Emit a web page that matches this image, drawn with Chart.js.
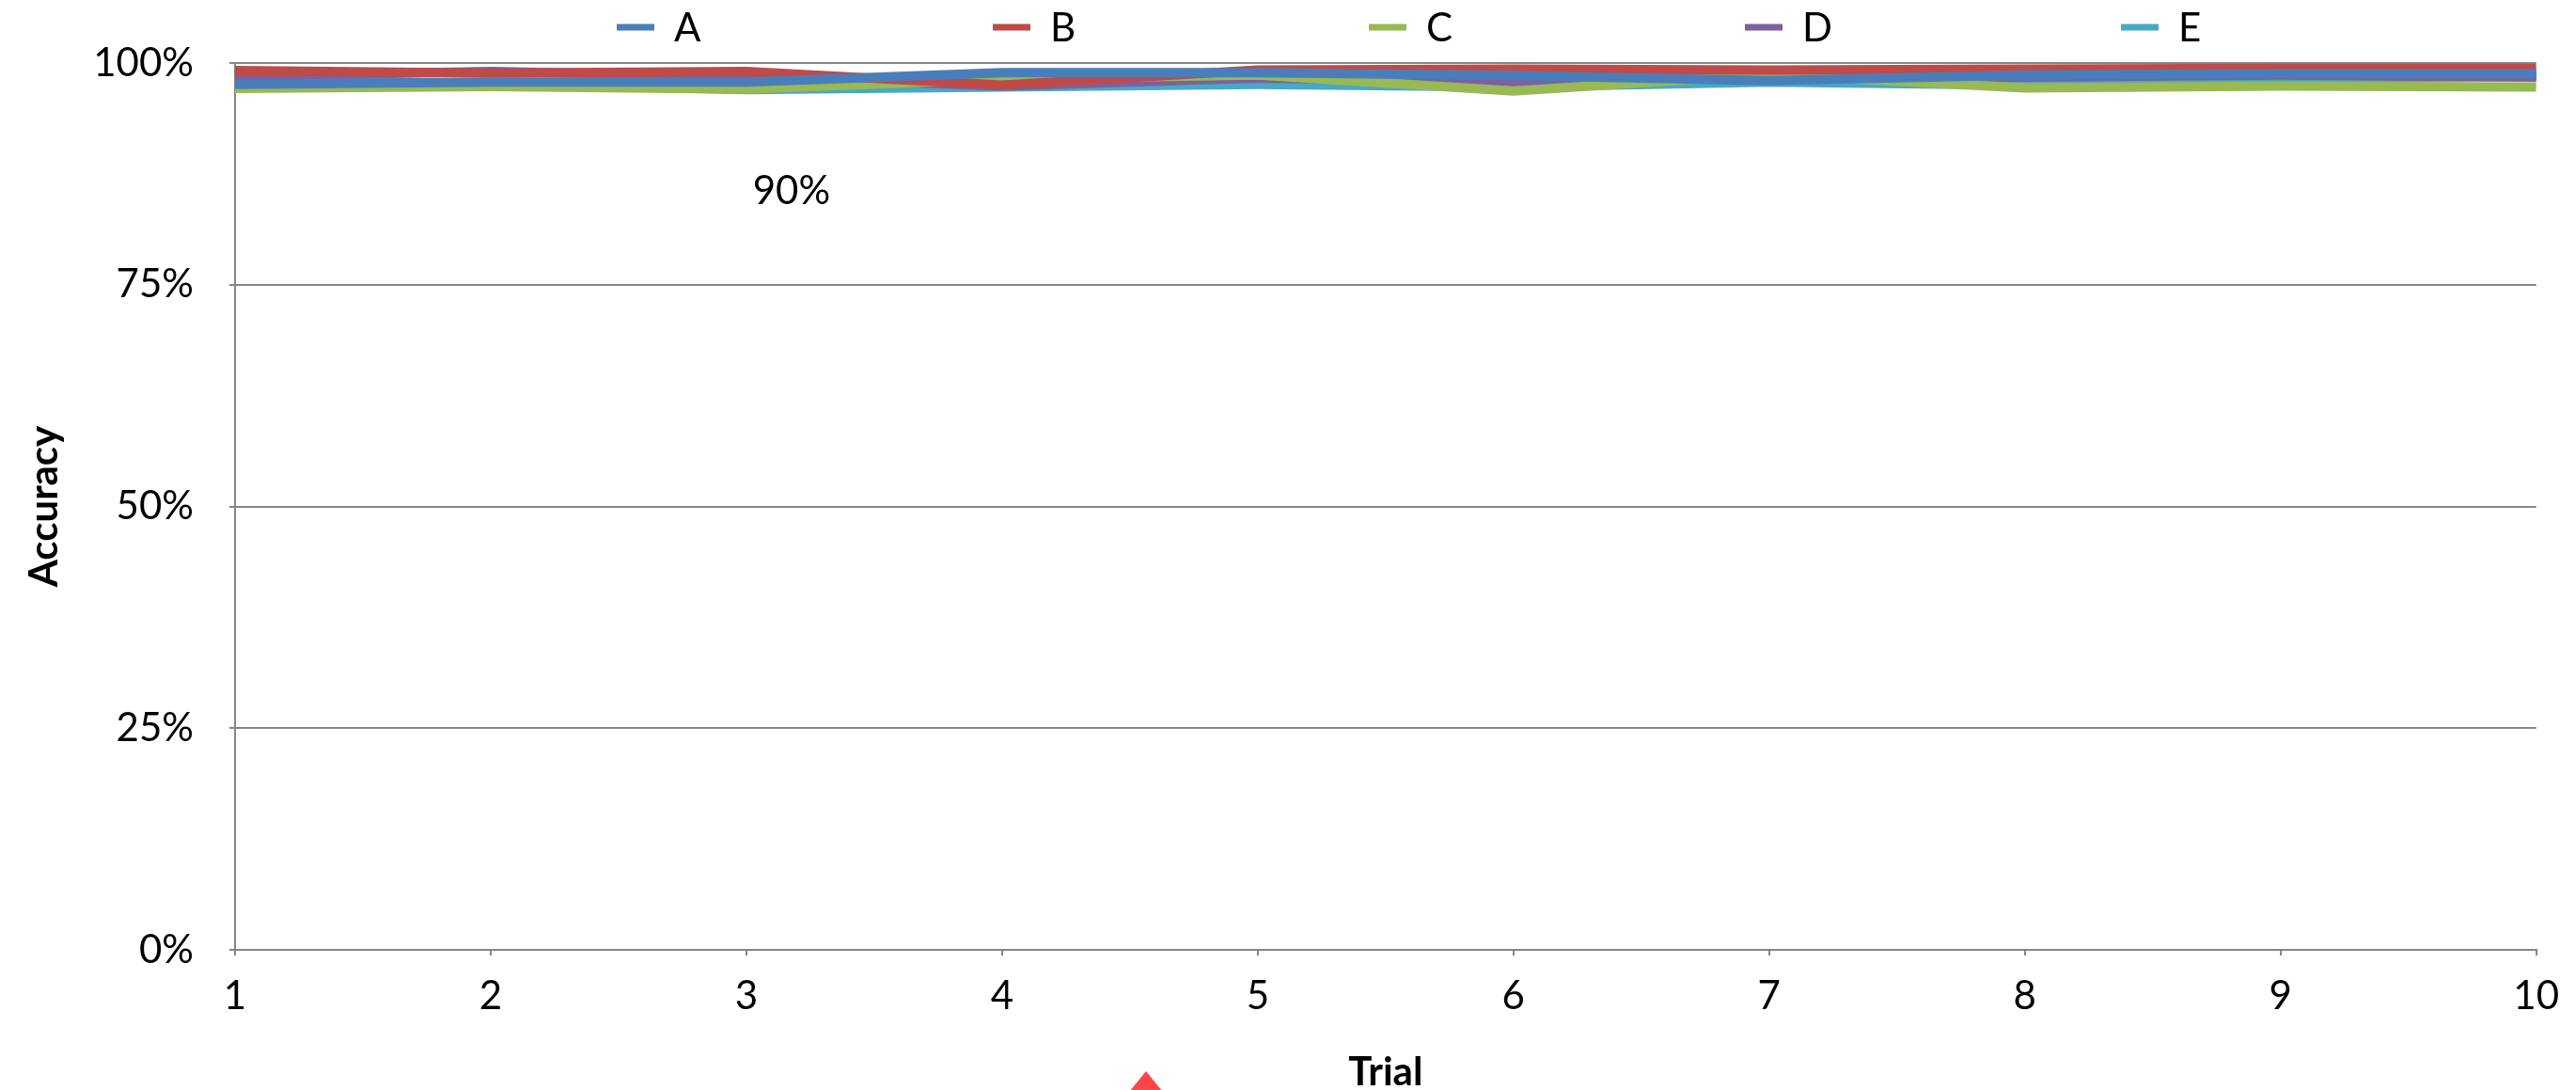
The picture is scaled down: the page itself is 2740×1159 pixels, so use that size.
<!DOCTYPE html>
<html>
<head>
<meta charset="utf-8">
<script src="https://cdn.jsdelivr.net/npm/chart.js@4.4.1/dist/chart.umd.min.js"></script>
<style>
  html, body { margin: 0; padding: 0; background: #ffffff; overflow: hidden; }
  #wrap { width: 2740px; height: 1159px; position: relative; }
  canvas { display: block; }
</style>
</head>
<body>
<div id="wrap"><canvas id="chart" width="2740" height="1159"></canvas></div>
<script>
// Trials on the x axis
const trials = ['1', '2', '3', '4', '5', '6', '7', '8', '9', '10'];

// Accuracy per trial (%), one array per series
const seriesNames = ['A', 'B', 'C', 'D', 'E'];
const accuracyA = [97.6, 97.85, 97.85, 98.9, 98.9, 98.6, 98.0, 98.65, 98.8, 98.8];
const accuracyB = [99.15, 98.85, 99.05, 97.5, 99.2, 99.3, 99.2, 99.3, 99.4, 99.4];
const accuracyC = [97.15, 97.35, 97.05, 98.2, 98.65, 96.85, 98.7, 97.2, 97.4, 97.3];
const accuracyD = [98.5, 99.05, 98.5, 97.4, 98.3, 97.9, 98.5, 98.4, 98.65, 98.4];
const accuracyE = [98.0, 97.7, 97.0, 97.3, 97.6, 97.3, 97.85, 97.5, 98.3, 98.5];

// Y axis tick values (%)
const yTicks = [0, 25, 50, 75, 100];

// Free-standing note on the plot
const noteText = '90%';

const seriesColors = ['#4A7EBB', '#BE4B48', '#98B954', '#7D60A0', '#46AAC5'];
const seriesValues = [accuracyA, accuracyB, accuracyC, accuracyD, accuracyE];

const FONT = 'Lato, "Open Sans", "DejaVu Sans", sans-serif';
const AXIS_GRAY = '#868686';

// Legend drawn in a single row above the plot, items spaced evenly
const topLegend = {
  id: 'topLegend',
  afterDraw(chart) {
    const ctx = chart.ctx;
    const startX = 656, spacing = 400, y = 29;
    ctx.save();
    ctx.font = '42px ' + FONT;
    ctx.textBaseline = 'middle';
    ctx.textAlign = 'left';
    chart.data.datasets.forEach((ds, i) => {
      const x = startX + i * spacing;
      ctx.fillStyle = ds.borderColor;
      ctx.fillRect(x, y - 3.5, 40, 7);
      ctx.fillStyle = '#000000';
      ctx.fillText(ds.label, x + 61, y + 1);
    });
    ctx.restore();
  }
};

// Note text and the small red marker under the plot
const extras = {
  id: 'extras',
  afterDraw(chart) {
    const ctx = chart.ctx;
    const xs = chart.scales.x, ys = chart.scales.y;
    ctx.save();
    ctx.font = '42px ' + FONT;
    ctx.fillStyle = '#000000';
    ctx.textAlign = 'center';
    ctx.textBaseline = 'middle';
    ctx.fillText(noteText, xs.getPixelForValue(2) + 48, ys.getPixelForValue(85.5));

    ctx.fillStyle = '#FF4545';
    ctx.beginPath();
    ctx.moveTo(1219, 1139);
    ctx.lineTo(1219 + 22, 1166);
    ctx.lineTo(1219 - 22, 1166);
    ctx.closePath();
    ctx.fill();
    ctx.restore();
  }
};

new Chart(document.getElementById('chart'), {
  type: 'line',
  data: {
    labels: trials,
    datasets: seriesNames.map((name, i) => ({
      label: name,
      data: seriesValues[i],
      borderColor: seriesColors[i],
      backgroundColor: seriesColors[i],
      borderWidth: 10,
      pointRadius: 0,
      pointHoverRadius: 0,
      tension: 0,
      fill: false
    }))
  },
  options: {
    responsive: false,
    devicePixelRatio: 1,
    animation: false,
    events: [],
    layout: { padding: { top: 67, right: 39, left: 0, bottom: 0 } },
    plugins: {
      legend: { display: false },
      tooltip: { enabled: false }
    },
    scales: {
      x: {
        type: 'category',
        offset: false,
        grid: {
          display: true,
          drawOnChartArea: false,
          drawTicks: true,
          tickLength: 6,
          color: AXIS_GRAY,
          lineWidth: 2
        },
        border: { display: true, color: AXIS_GRAY, width: 2 },
        ticks: {
          color: '#000000',
          font: { family: FONT, size: 42 },
          padding: 18,
          maxRotation: 0,
          autoSkip: false
        },
        title: {
          display: true,
          text: 'Trial',
          color: '#000000',
          font: { family: FONT, size: 42, weight: 'bold', lineHeight: 1 },
          padding: { top: 0, bottom: -2 }
        },
        afterFit(scale) { scale.height = 149; }
      },
      y: {
        min: 0,
        max: 100,
        afterBuildTicks(scale) { scale.ticks = yTicks.map(v => ({ value: v })); },
        grid: {
          display: true,
          drawTicks: true,
          tickLength: 6,
          color: AXIS_GRAY,
          lineWidth: 2
        },
        border: { display: true, color: AXIS_GRAY, width: 2 },
        ticks: {
          color: '#000000',
          font: { family: FONT, size: 42 },
          padding: 38,
          callback: v => v + '%'
        },
        title: {
          display: true,
          text: 'Accuracy',
          color: '#000000',
          font: { family: FONT, size: 42, weight: 'bold', lineHeight: 1 },
          padding: { top: 26, bottom: 0 }
        },
        afterFit(scale) { scale.width = 250; }
      }
    }
  },
  plugins: [topLegend, extras]
});
</script>
</body>
</html>
